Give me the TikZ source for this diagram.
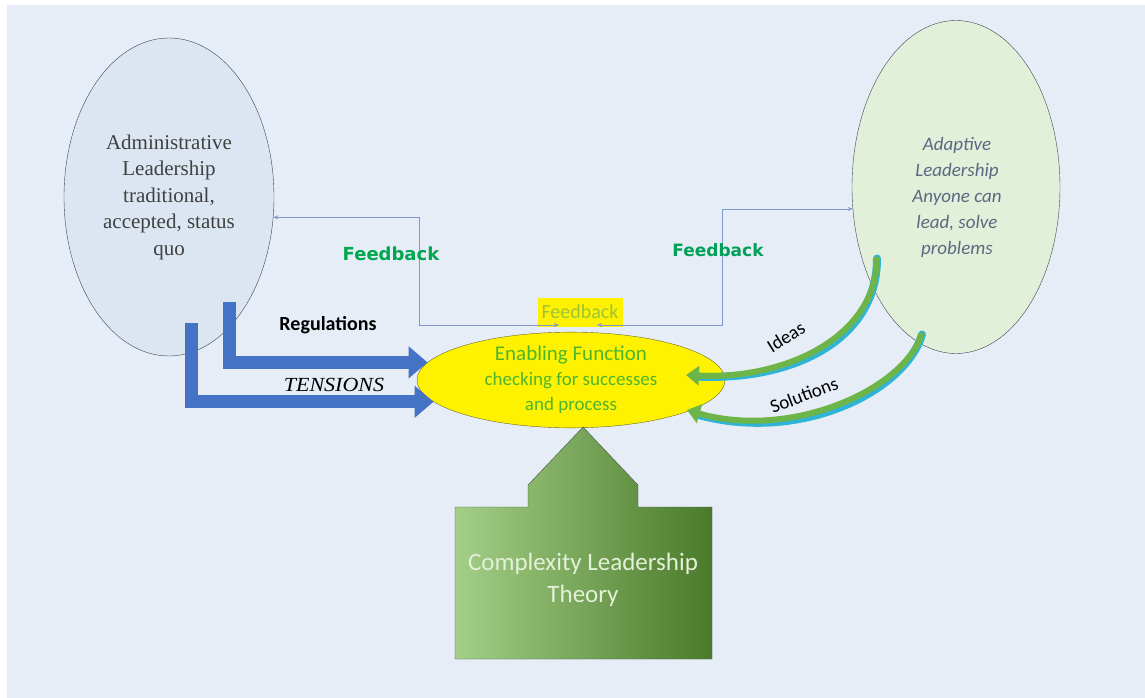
\documentclass[tikz,border=0pt]{standalone}
\usepackage{fontspec}
\setmainfont{Liberation Serif}
\newfontfamily\calibri{Carlito}
\newfontfamily\verd{DejaVu Sans}
\usetikzlibrary{shapes.geometric,arrows.meta,calc}

\definecolor{pageBg}{HTML}{E6EDF6}
\definecolor{adminFill}{HTML}{DCE6F2}
\definecolor{adaptFill}{HTML}{E2EFD9}
\definecolor{edgeGray}{HTML}{3B4656}
\definecolor{enabGreen}{HTML}{4DB52E}
\definecolor{fbBlue}{HTML}{7F98CF}
\definecolor{fbGreen}{HTML}{00A650}
\definecolor{fbHigh}{HTML}{9CC43A}
\definecolor{arrBlue}{HTML}{4472C4}
\definecolor{ideaGreen}{HTML}{6DB548}
\definecolor{ideaCyan}{HTML}{2FB4D6}
\definecolor{cltLight}{HTML}{A4CF87}
\definecolor{cltMid}{HTML}{6FAA45}
\definecolor{cltDark}{HTML}{4A7A2A}
\definecolor{cltText}{HTML}{E4F1D9}
\definecolor{handBlue}{HTML}{5A6A82}

\begin{document}
\begin{tikzpicture}[x=1pt,y=-1pt,
    lead/.style={ellipse,draw=edgeGray,thin,inner sep=0pt},
    fbline/.style={draw=fbBlue,thin,{Stealth[length=5pt,width=4pt]}-{Stealth[length=5pt,width=4pt]}},
    bluearr/.style={draw=arrBlue,line width=13pt,-{Triangle[length=19pt,width=31pt]}},
    ideaback/.style={draw=ideaCyan,line width=8pt,line cap=round},
    ideafront/.style={draw=ideaGreen,line width=6pt,-{Triangle[length=13pt,width=19pt]}},
    fbbold/.style={text=fbGreen,font=\verd\bfseries\fontsize{18}{22}\selectfont}]
  % page
  \useasboundingbox (0,0) rectangle (1145,698);
  \fill[white] (0,0) rectangle (1145,698);
  \fill[pageBg] (7,5) rectangle (1145,698);

  % the two kinds of leadership and the enabling function
  \node[lead,fill=adminFill,minimum width=210pt,minimum height=318pt,align=center,
        text=black!75,font=\fontsize{21}{26.5}\selectfont] (admin) at (169,197)
        {Administrative\\Leadership\\traditional,\\accepted, status\\quo};
  \node[lead,fill=adaptFill,minimum width=208pt,minimum height=333pt] (adapt) at (956,187) {};
  \node[align=center,text=handBlue,font=\calibri\itshape\fontsize{19}{26}\selectfont] (adaptTxt) at (957,197)
        {Adaptive\\Leadership\\Anyone can\\lead, solve\\problems};

  \node[lead,draw=olive!70!black,fill=yellow,minimum width=308pt,minimum height=92pt,align=center,
        text=enabGreen,font=\calibri\fontsize{19}{25}\selectfont] (enab) at (571,380)
        {{\fontsize{21}{25}\selectfont Enabling Function}\\
         checking for successes\\
         and process};

  % blue pushes from the left
  \draw[bluearr] ($(admin.center)+(60,105)$) |- (enab.173);
  \draw[bluearr] ($(admin.center)+(22,126)$) |- (enab.189);
  \node[font=\calibri\bfseries\fontsize{20}{24}\selectfont] (regs) at (328,325) {Regulations};
  \node[font=\itshape\fontsize{20}{24}\selectfont,xscale=1.1] (tens) at (334,385) {TENSIONS};

  % feedback loops
  \node[fill=yellow,text=fbHigh,inner sep=1pt,minimum width=85pt,minimum height=29pt,
        font=\calibri\fontsize{20}{24}\selectfont] (fbMid) at (580,312) {Feedback};
  \coordinate (fbL) at (559,325);
  \coordinate (fbR) at (597,325);
  \draw[fbline] (admin.-11) -| (419,325) -- (fbL);
  \draw[fbline] (fbR) -- (722,325) |- (adapt.192);
  \node[fbbold] (fbLeft) at (391,254) {Feedback};
  \node[fbbold,font=\verd\fontsize{17}{22}\selectfont\bfseries,text=fbGreen!85!teal] (fbRight) at (718,250) {Feedback};

  % ideas and solutions coming back
  \draw[ideaback,transform canvas={yshift=-1.5pt}] ($(adapt.center)+(-79,70)$) .. controls (877,340) and (790,380) .. ($(enab.center)+(125,-5)$);
  \draw[ideafront] ($(adapt.center)+(-79,70)$) .. controls (877,340) and (780,380) .. ($(enab.center)+(115,-5)$);
  \draw[ideaback,transform canvas={yshift=-1.5pt}] ($(adapt.center)+(-34,146)$) .. controls (905,390) and (800,442) .. ($(enab.center)+(126,33)$);
  \draw[ideafront] ($(adapt.center)+(-34,146)$) .. controls (905,390) and (790,440) .. ($(enab.center)+(116,30)$);
  \node[rotate=32,font=\calibri\fontsize{19}{22}\selectfont] (ideas) at (786,337) {Ideas};
  \node[rotate=21,font=\calibri\fontsize{19}{22}\selectfont] (sols) at (804,395) {Solutions};

  % the theory underneath
  \draw[edgeGray!60!cltDark,left color=cltLight,middle color=cltMid,right color=cltDark]
    (455,659) -- (455,507) -- (528,507) -- (528,485) -- (583,427) -- (638,485)
    -- (638,507) -- (712,507) -- (712,659) -- cycle;
  \node[align=center,text=cltText,font=\calibri\fontsize{25}{32}\selectfont] (clt) at (583,580)
    {Complexity Leadership\\Theory};
\end{tikzpicture}
\end{document}
